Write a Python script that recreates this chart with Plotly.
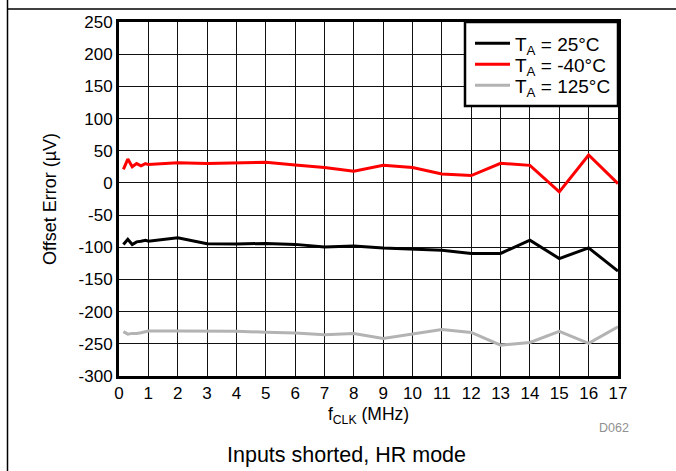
import plotly.graph_objects as go

# Clock frequency (MHz) and offset error (µV) for three ambient temperatures
f_clk = [0.15, 0.3, 0.45, 0.6, 0.75, 0.9, 1, 2, 3, 4, 5, 6, 7, 8, 9, 10, 11, 12, 13, 14, 15, 16, 17]
offset_25c = [-95.7, -87.5, -95.7, -91.6, -90.5, -89, -90.6, -85.4, -94.5, -95, -94, -95.5, -99.5, -98,
              -101, -103, -104.5, -109.5, -109.5, -89, -117.5, -101, -137]
offset_m40c = [21, 37, 25, 30, 26.5, 30, 28.5, 31.5, 30, 31, 32, 28, 24, 18,
               27.3, 23.8, 13.9, 11.4, 30.5, 27.3, -14, 43.3, -1]
offset_125c = [-231, -235, -233.8, -234, -232.8, -231, -230, -230, -229.7, -230.5, -232, -233, -236, -234,
               -241.6, -234.4, -227.6, -232.3, -252, -247.8, -230.7, -249.3, -223.5]

series = [
    ("T<sub>A</sub> = 25°C", offset_25c, "#000000"),
    ("T<sub>A</sub> = -40°C", offset_m40c, "#FF0000"),
    ("T<sub>A</sub> = 125°C", offset_125c, "#B3B3B3"),
]

x_ticks = list(range(0, 18))
y_ticks = list(range(-300, 251, 50))

FONT = "Arial, Liberation Sans, sans-serif"

L, R, T, B = 119, 58, 22, 95
W, H = 676, 471
plot_w, plot_h = W - L - R, H - T - B


def px(xp):
    return (xp - L) / plot_w


def py(yp):
    return (H - B - yp) / plot_h


# one legend entry per row, stacked inside a shared framed box
legend_keys = ["legend", "legend2", "legend3"]
row_centers = [43.5, 64.5, 85.5]

fig = go.Figure()
for (name, vals, color), key in zip(series, legend_keys):
    fig.add_trace(go.Scatter(x=f_clk, y=vals, mode="lines", name=name, legend=key,
                             line=dict(color=color, width=3)))

legend_layout = {}
for key, yc in zip(legend_keys, row_centers):
    legend_layout[key] = dict(x=px(470), y=py(yc), xanchor="left", yanchor="middle",
                              bgcolor="rgba(0,0,0,0)", borderwidth=0,
                              font=dict(size=19), itemwidth=35)

fig.update_layout(
    width=W, height=H,
    margin=dict(l=L, r=R, t=T, b=B, pad=0),
    paper_bgcolor="white", plot_bgcolor="white",
    font=dict(family=FONT, size=17, color="black"),
    showlegend=True,
    **legend_layout,
    xaxis=dict(range=[0, 17], tickvals=x_ticks, ticktext=[str(v) for v in x_ticks],
               showgrid=True, gridcolor="#111111", gridwidth=1,
               showline=True, linecolor="black", linewidth=3, mirror=True,
               ticks="", zeroline=False,
               title=dict(text="f<sub>CLK</sub> (MHz)", font=dict(size=17.5), standoff=6)),
    yaxis=dict(range=[-300, 250], tickvals=y_ticks, ticktext=[str(v) for v in y_ticks],
               showgrid=True, gridcolor="#111111", gridwidth=1,
               showline=True, linecolor="black", linewidth=3, mirror=True,
               ticks="", zeroline=False,
               title=dict(text="Offset Error (µV)", font=dict(size=18), standoff=18)),
    shapes=[
        # legend frame
        dict(type="rect", xref="paper", yref="paper", x0=px(465), x1=1, y0=py(106), y1=1,
             fillcolor="white", line=dict(color="black", width=2.5), layer="above"),
        # outer page rules
        dict(type="line", xref="paper", yref="paper", x0=px(7.5), x1=px(7.5), y0=py(0), y1=py(H),
             line=dict(color="black", width=1.5)),
        dict(type="line", xref="paper", yref="paper", x0=px(7), x1=px(W), y0=py(9), y1=py(9),
             line=dict(color="black", width=1.5)),
    ],
    annotations=[
        dict(text="D062", xref="paper", yref="paper", x=px(631), y=py(428),
             xanchor="right", yanchor="middle", showarrow=False,
             font=dict(size=12.5, color="#909090")),
        dict(text="Inputs shorted, HR mode", xref="paper", yref="paper", x=px(346), y=py(455),
             xanchor="center", yanchor="middle", showarrow=False,
             font=dict(size=21.5, color="black")),
    ],
)

fig.write_html("out.html")
